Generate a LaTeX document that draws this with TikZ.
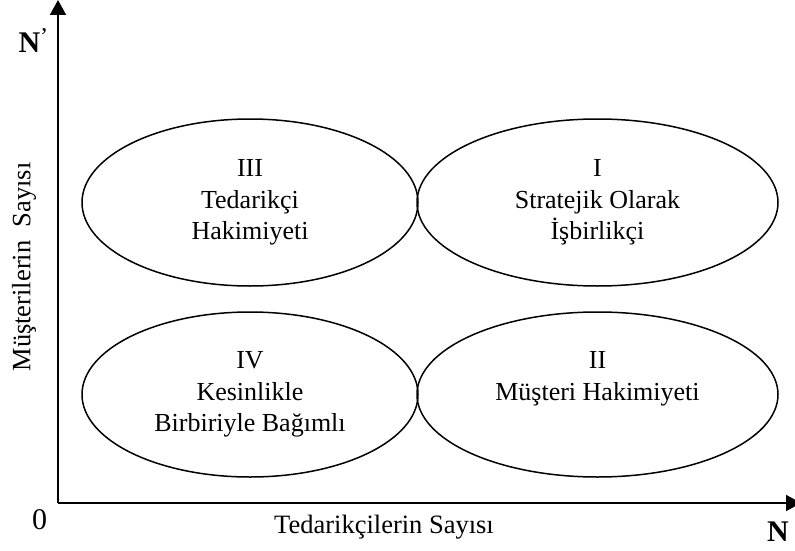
\documentclass[tikz,border=0pt]{standalone}
\usepackage{fontspec}
\setmainfont{Liberation Serif}
\usetikzlibrary{shapes.geometric,arrows.meta}

\begin{document}
\begin{tikzpicture}[
    x=1pt,y=-1pt,
    quad/.style={ellipse,draw,line width=1.5pt,inner sep=0pt,align=center,
      font=\fontsize{26}{31.5}\selectfont},
    lbl/.style={font=\fontsize{26.5}{30}\selectfont},
    big/.style={font=\fontsize{30}{34}\selectfont},
    bigbold/.style={font=\fontsize{30}{34}\selectfont\bfseries},
    axis/.style={-{Triangle[length=15pt,width=16pt]},line width=2pt}
]
\useasboundingbox (0,0) rectangle (795,551);
\coordinate (o) at (58,503);
\coordinate (ytip) at (58,0);
\coordinate (xtip) at (801,503);
\node[quad,minimum width=336pt,minimum height=167pt] (q3) at (250,202.5) {III\\Tedarikçi\\Hakimiyeti\vphantom{y}};
\node[quad,minimum width=361pt,minimum height=167pt] (q1) at (597.5,202.5) {I\\Stratejik Olarak\\İşbirlikçi\vphantom{y}};
\node[quad,minimum width=336pt,minimum height=165pt] (q4) at (250,394.5) {IV\\Kesinlikle\\Birbiriyle Bağımlı\vphantom{y}};
\node[quad,minimum width=361pt,minimum height=165pt] (q2) at (597.5,394.5) {II\\Müşteri Hakimiyeti\\\vphantom{y}};
\draw[axis] (o) -- (ytip);
\draw[axis] (o) -- (xtip);
\node[big] (zero) at (39.5,520) {0};
\node[lbl] (xlab) at (384,527) {Tedarikçilerin Sayısı};
\node[lbl,rotate=90] (ylab) at (24,267) {Müşterilerin\ \ Sayısı};
\node[bigbold] (nx) at (778,532) {N};
\node[bigbold,anchor=west] (ny) at (15,41) {N\raisebox{8pt}{\mdseries\fontsize{24}{24}\selectfont ’}};
\end{tikzpicture}
\end{document}
